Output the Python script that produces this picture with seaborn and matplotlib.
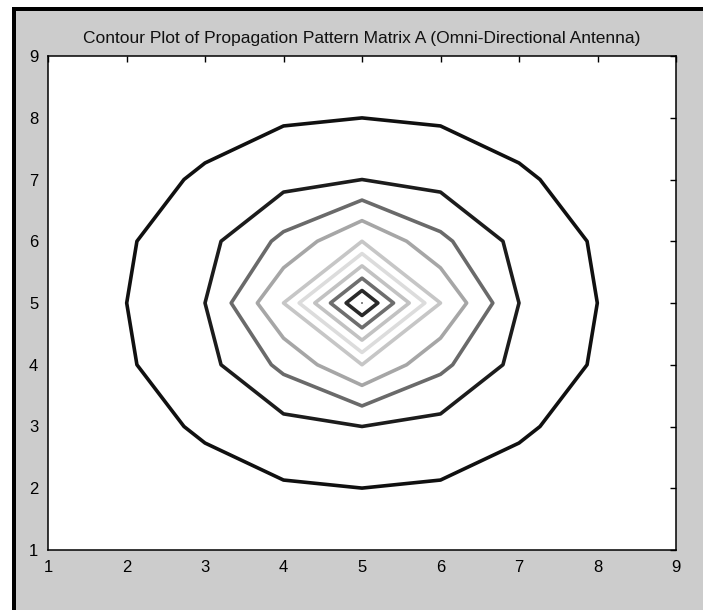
import numpy as np
import matplotlib
matplotlib.use("Agg")
import matplotlib.pyplot as plt
from matplotlib.patches import Rectangle
import seaborn as sns

# ---- data ----
x_vals = [1, 2, 3, 4, 5, 6, 7, 8, 9]
y_vals = [1, 2, 3, 4, 5, 6, 7, 8, 9]
row_1 = [0.177, 0.200, 0.224, 0.243, 0.250, 0.243, 0.224, 0.200, 0.177]
row_2 = [0.200, 0.236, 0.277, 0.316, 0.333, 0.316, 0.277, 0.236, 0.200]
row_3 = [0.224, 0.277, 0.354, 0.447, 0.500, 0.447, 0.354, 0.277, 0.224]
row_4 = [0.243, 0.316, 0.447, 0.707, 1.000, 0.707, 0.447, 0.316, 0.243]
row_5 = [0.250, 0.333, 0.500, 1.000, 1.836, 1.000, 0.500, 0.333, 0.250]
row_6 = [0.243, 0.316, 0.447, 0.707, 1.000, 0.707, 0.447, 0.316, 0.243]
row_7 = [0.224, 0.277, 0.354, 0.447, 0.500, 0.447, 0.354, 0.277, 0.224]
row_8 = [0.200, 0.236, 0.277, 0.316, 0.333, 0.316, 0.277, 0.236, 0.200]
row_9 = [0.177, 0.200, 0.224, 0.243, 0.250, 0.243, 0.224, 0.200, 0.177]
contour_levels = [0.3334, 0.5001, 0.6667, 0.8333, 1.0001, 1.1667, 1.3333, 1.5, 1.6667, 1.8333]
tick_labels = ["1", "2", "3", "4", "5", "6", "7", "8", "9"]
title_text = "Contour Plot of Propagation Pattern Matrix A (Omni-Directional Antenna)"

level_colors = ['#101010', '#1c1c1c', '#6a6a6a', '#a6a6a6', '#c6c6c6',
                '#dcdcdc', '#c2c2c2', '#6e6e6e', '#2a2a2a', '#303030']
level_widths = [2.6, 2.6, 2.6, 2.6, 2.6, 2.6, 2.6, 2.6, 2.6, 1.0]

A = np.array([row_1, row_2, row_3, row_4, row_5, row_6, row_7, row_8, row_9])

sns.set_style("white")
plt.rcParams['font.family'] = ['Liberation Sans', 'DejaVu Sans']

W, H = 703, 610
fig = plt.figure(figsize=(W / 100, H / 100), dpi=100, facecolor='white')
# gray panel and black frame
fig.patches.append(Rectangle((16 / W, 0), 1 - 16 / W, 1 - 11 / H, transform=fig.transFigure,
                             facecolor='#cccccc', edgecolor='none', zorder=-2))
fig.patches.append(Rectangle((12 / W, 0), 4 / W, 1 - 7 / H, transform=fig.transFigure,
                             facecolor='black', edgecolor='none', zorder=-1))
fig.patches.append(Rectangle((12 / W, 1 - 11 / H), 1 - 12 / W, 4 / H, transform=fig.transFigure,
                             facecolor='black', edgecolor='none', zorder=-1))

ax = fig.add_axes([48 / W, 60 / H, 628 / W, 494 / H])
ax.set_facecolor('white')

X, Y = np.meshgrid(x_vals, y_vals)
ax.contour(X, Y, A, levels=contour_levels, colors=level_colors, linewidths=level_widths)

ax.set_xlim(1, 9)
ax.set_ylim(1, 9)
ax.set_xticks(x_vals)
ax.set_yticks(y_vals)
ax.set_xticklabels(tick_labels)
ax.set_yticklabels(tick_labels)
ax.tick_params(direction='in', length=4.5, width=1, top=True, right=True,
               labelsize=12, colors='black', pad=7)
for s in ax.spines.values():
    s.set_visible(True)
    s.set_color('black')
    s.set_linewidth(1.1)

ax.set_title(title_text, fontsize=12.5, pad=9, color='#111111')

fig.savefig('out.png', dpi=100, facecolor=fig.get_facecolor())
